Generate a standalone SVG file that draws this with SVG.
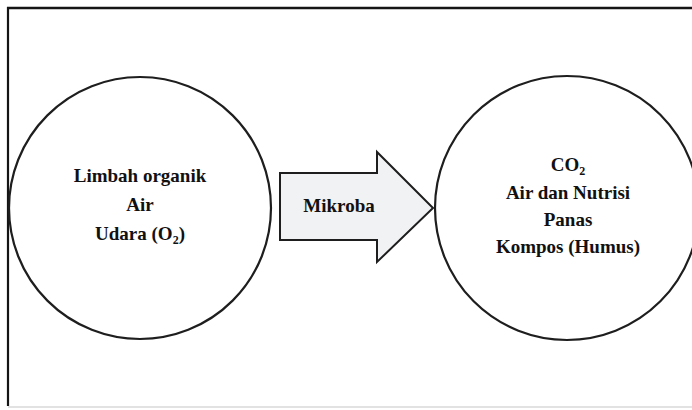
<svg xmlns="http://www.w3.org/2000/svg" width="692" height="410" viewBox="0 0 692 410">
<style>
.lbl{font-family:"Liberation Serif","Times New Roman",serif;font-weight:bold;font-size:19px;fill:#111;text-anchor:middle}
.sub{font-size:12px}
.node{fill:none;stroke:#1e1e1e;stroke-width:2.2}
.frame{stroke:#151515;fill:none}
</style>
<rect width="692" height="410" fill="#ffffff"/>
<g id="frame">
<line class="frame" x1="7" y1="8" x2="692" y2="8" stroke-width="2.5"/>
<line class="frame" x1="8" y1="7" x2="8" y2="406" stroke-width="2.2"/>
<line x1="8" y1="407" x2="692" y2="407" stroke="#d8d8d8" stroke-width="1.5"/>
</g>
<g id="input">
<circle class="node" cx="140" cy="208" r="131"/>
<text class="lbl" x="140" y="182">Limbah organik</text>
<text class="lbl" x="140" y="211">Air</text>
<text class="lbl" x="140" y="240">Udara (O<tspan class="sub" dy="4">2</tspan><tspan dy="-4">)</tspan></text>
</g>
<g id="output">
<circle class="node" cx="567" cy="208" r="132"/>
<text class="lbl" x="568" y="171">CO<tspan class="sub" dy="4">2</tspan></text>
<text class="lbl" x="568" y="199">Air dan Nutrisi</text>
<text class="lbl" x="568" y="226">Panas</text>
<text class="lbl" x="568" y="253">Kompos (Humus)</text>
</g>
<g id="connectors">
<g id="mikroba">
<polygon points="280,173 377,173 377,152 433,208 377,262 377,240 280,240" fill="#f1f2f4" stroke="#1e1e1e" stroke-width="2"/>
<text class="lbl" x="339" y="212">Mikroba</text>
</g>
</g>
</svg>
